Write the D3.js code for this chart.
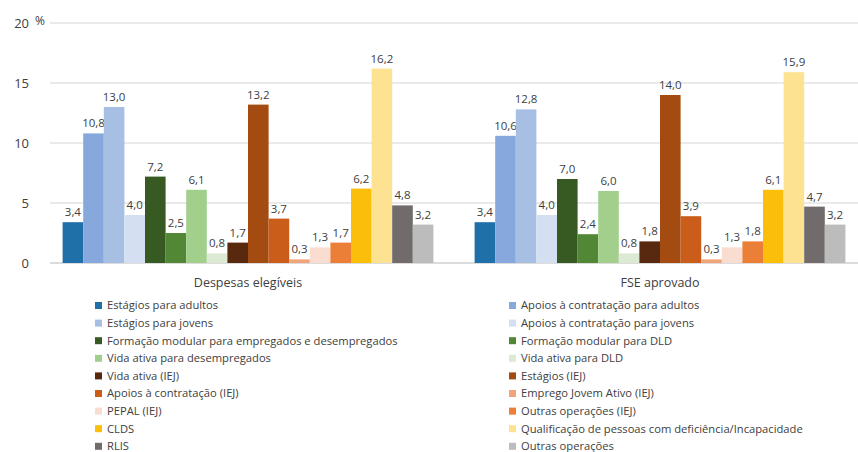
<!DOCTYPE html>
<html>
<head>
<meta charset="utf-8">
<script src="https://cdn.jsdelivr.net/npm/d3@7"></script>
<style>
  body { margin: 0; background: #fff; }
  svg { font-family: "Open Sans", sans-serif; }
</style>
</head>
<body>
<div id="chart"></div>
<script>
// Distribuição por tipologia (%)
const width = 858;
const height = 452;

const groups = ["Despesas elegíveis", "FSE aprovado"];

const series = [
    "Estágios para adultos",
    "Apoios à contratação para adultos",
    "Estágios para jovens",
    "Apoios à contratação para jovens",
    "Formação modular para empregados e desempregados",
    "Formação modular para DLD",
    "Vida ativa para desempregados",
    "Vida ativa para DLD",
    "Vida ativa (IEJ)",
    "Estágios (IEJ)",
    "Apoios à contratação (IEJ)",
    "Emprego Jovem Ativo (IEJ)",
    "PEPAL (IEJ)",
    "Outras operações (IEJ)",
    "CLDS",
    "Qualificação de pessoas com deficiência/Incapacidade",
    "RLIS",
    "Outras operações"
];

const despesas = [3.4, 10.8, 13.0, 4.0, 7.2, 2.5, 6.1, 0.8, 1.7, 13.2, 3.7, 0.3, 1.3, 1.7, 6.2, 16.2, 4.8, 3.2];
const fse      = [3.4, 10.6, 12.8, 4.0, 7.0, 2.4, 6.0, 0.8, 1.8, 14.0, 3.9, 0.3, 1.3, 1.8, 6.1, 15.9, 4.7, 3.2];

const colors = [
    "#1f6fa9", "#86a8dc", "#a8bfe4", "#d5dff2",
    "#375a22", "#518735", "#a2cf8c", "#dcead3",
    "#58290f", "#a34b10", "#c95d19", "#f1a47a",
    "#f8ddd0", "#eb7f38", "#fbbe0b", "#fde291",
    "#726b6b", "#bcbcbc"
];

const yTicks = [0, 5, 10, 15, 20];

const values = [despesas, fse];

const svg = d3.select("#chart")
    .append("svg")
    .attr("width", width)
    .attr("height", height);

const x0 = d3.scaleBand()
    .domain(groups)
    .range([42, 866])
    .paddingInner(0.1)
    .paddingOuter(0.05);

const x1 = d3.scaleBand()
    .domain(series)
    .range([0, x0.bandwidth()]);

const y = d3.scaleLinear()
    .domain([0, 20])
    .range([263, 23]);

const color = d3.scaleOrdinal().domain(series).range(colors);

// gridlines
svg.append("g")
    .selectAll("line")
    .data(yTicks)
    .join("line")
    .attr("x1", 50)
    .attr("x2", width)
    .attr("y1", d => y(d))
    .attr("y2", d => y(d))
    .attr("stroke", d => d === 0 ? "#d0d0d0" : "#e3e3e3")
    .attr("stroke-width", 1.5);

// y tick labels
svg.append("g")
    .selectAll("text")
    .data(yTicks)
    .join("text")
    .attr("x", 29)
    .attr("y", d => y(d))
    .attr("dy", "0.35em")
    .attr("text-anchor", "end")
    .attr("font-size", 13)
    .attr("fill", "#404040")
    .text(d => d);

svg.append("text")
    .attr("x", 35)
    .attr("y", y(20) + 2)
    .attr("font-size", 12)
    .attr("fill", "#404040")
    .text("%");

// bars
const g = svg.append("g")
    .selectAll("g")
    .data(groups)
    .join("g")
    .attr("transform", d => `translate(${x0(d)},0)`);

const cells = g.selectAll("g")
    .data((gName, gi) => series.map((s, i) => ({ s, v: values[gi][i] })))
    .join("g");

cells.append("rect")
    .attr("x", d => x1(d.s))
    .attr("y", d => y(d.v))
    .attr("width", x1.bandwidth())
    .attr("height", d => y(0) - y(d.v))
    .attr("fill", d => color(d.s));

cells.append("text")
    .attr("x", d => x1(d.s) + x1.bandwidth() / 2)
    .attr("y", d => y(d.v) - 6)
    .attr("text-anchor", "middle")
    .attr("font-size", 11.5)
    .attr("fill", "#404040")
    .text(d => d3.format(".1f")(d.v).replace(".", ","));

// group labels
svg.append("g")
    .selectAll("text")
    .data(groups)
    .join("text")
    .attr("x", d => x0(d) + x0.bandwidth() / 2)
    .attr("y", 287)
    .attr("text-anchor", "middle")
    .attr("font-size", 12.5)
    .attr("fill", "#404040")
    .text(d => d);

// legend, two columns, row-major
const legend = svg.append("g")
    .selectAll("g")
    .data(series)
    .join("g")
    .attr("transform", (d, i) => {
        const col = i % 2;
        const row = Math.floor(i / 2);
        return `translate(${col === 0 ? 95 : 509},${305.5 + row * 17.6})`;
    });

legend.append("rect")
    .attr("x", 0)
    .attr("y", -3.5)
    .attr("width", 7)
    .attr("height", 7)
    .attr("fill", d => color(d));

legend.append("text")
    .attr("x", 12)
    .attr("y", 0)
    .attr("dy", "0.35em")
    .attr("font-size", 11.2)
    .attr("fill", "#404040")
    .text(d => d);
</script>
</body>
</html>
